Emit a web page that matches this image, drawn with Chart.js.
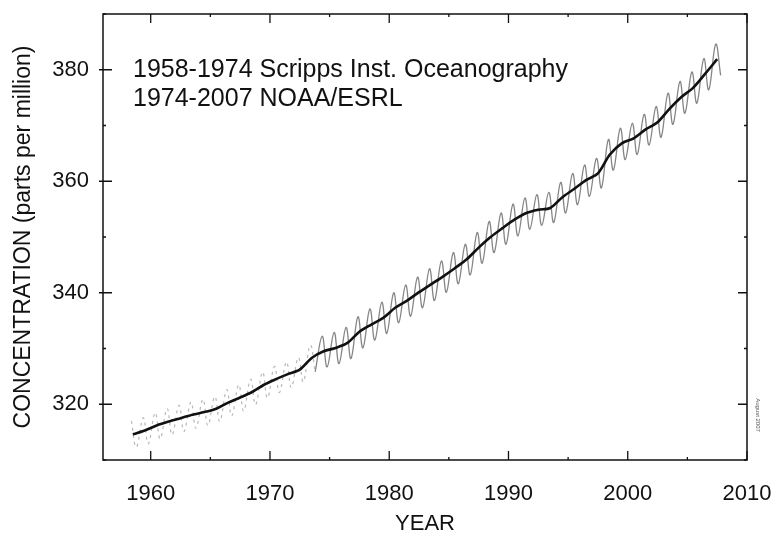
<!DOCTYPE html>
<html>
<head>
<meta charset="utf-8">
<title>Atmospheric CO2 at Mauna Loa</title>
<script src="https://cdn.jsdelivr.net/npm/chart.js@4"></script>
<style>
  body { margin: 0; background: #fff; }
  #wrap { position: relative; width: 775px; height: 544px; }
</style>
</head>
<body>
<div id="wrap"><canvas id="co2" width="775" height="544"></canvas></div>
<script>
// values (ppm)
const years = [1958, 1959, 1960, 1961, 1962, 1963, 1964, 1965, 1966, 1967,
   1968, 1969, 1970, 1971, 1972, 1973, 1974, 1975, 1976, 1977,
   1978, 1979, 1980, 1981, 1982, 1983, 1984, 1985, 1986, 1987,
   1988, 1989, 1990, 1991, 1992, 1993, 1994, 1995, 1996, 1997,
   1998, 1999, 2000, 2001, 2002, 2003, 2004, 2005, 2006, 2007];

// seasonally adjusted line (black)
const trendPpm = [314.6, 315.3, 316.2, 316.9, 317.5, 318.1, 318.6, 319.2, 320.3, 321.2,
   322.2, 323.5, 324.5, 325.4, 326.2, 328.3, 329.5, 330.1, 331.0, 333.0,
   334.3, 335.5, 337.3, 338.6, 340.1, 341.5, 342.9, 344.4, 346.0, 348.1,
   350.0, 351.6, 353.1, 354.3, 354.9, 355.2, 357.1, 358.6, 360.2, 361.4,
   364.8, 366.8, 367.7, 369.3, 370.6, 373.0, 375.1, 376.8, 379.3, 381.9];

// monthly record (grey): spring maximum and autumn minimum of each year
const springHigh = [317.0, 317.6, 318.5, 319.2, 319.8, 320.4, 320.9, 321.4, 322.6, 323.5,
   324.5, 325.8, 326.8, 327.6, 328.4, 330.6, 332.2, 332.9, 333.8, 335.7,
   337.1, 338.3, 340.0, 341.4, 342.8, 344.3, 345.7, 347.2, 348.7, 350.8,
   352.8, 354.3, 355.9, 357.0, 357.6, 358.0, 359.8, 361.4, 362.9, 364.1,
   367.5, 369.5, 370.4, 372.0, 373.4, 375.8, 377.9, 379.6, 382.0, 384.6];
const autumnLow = [312.3, 312.9, 313.8, 314.5, 315.1, 315.7, 316.2, 316.9, 317.9, 318.8,
   319.9, 321.1, 322.1, 323.0, 324.0, 325.8, 326.7, 327.3, 328.2, 330.1,
   331.5, 332.7, 334.6, 335.8, 337.3, 338.6, 340.1, 341.6, 343.2, 345.3,
   347.2, 348.7, 350.2, 351.4, 352.1, 352.6, 354.3, 355.8, 357.3, 358.8,
   362.0, 363.9, 364.8, 366.5, 367.9, 370.2, 372.2, 374.0, 376.4, 379.0];

const noaaStart = 1974;
const yearLabels = [1960, 1970, 1980, 1990, 2000, 2010];
const ppmLabels = [320, 340, 360, 380];
const sourceNotes = ['1958-1974 Scripps Inst. Oceanography', '1974-2007 NOAA/ESRL'];

const FONT = "'Liberation Sans', Arial, Helvetica, sans-serif";

const trendPoints = years.map((yr, i) => ({ x: yr + 0.5, y: trendPpm[i] }));
const scrippsPoints = [];
const noaaPoints = [];
years.forEach((yr, i) => {
   const target = yr < noaaStart ? scrippsPoints : noaaPoints;
   target.push({ x: yr + 0.38, y: springHigh[i] });
   target.push({ x: yr + 0.79, y: autumnLow[i] });
});
// join the two records
noaaPoints.unshift(scrippsPoints[scrippsPoints.length - 1]);

const frameAndNotes = {
   id: 'frameAndNotes',
   afterDraw(chart) {
      const { ctx, chartArea: a, scales: { x, y } } = chart;
      ctx.save();
      ctx.strokeStyle = '#111';
      ctx.lineWidth = 1.5;
      ctx.strokeRect(a.left, a.top, a.right - a.left, a.bottom - a.top);

      ctx.lineWidth = 1.3;
      ctx.beginPath();
      y.ticks.forEach(t => {
         if (t.value % 10 !== 0) return;
         const py = y.getPixelForValue(t.value);
         const len = t.value % 20 === 0 ? 9 : 3;
         ctx.moveTo(a.left - (len > 3 ? 4 : 0), py);
         ctx.lineTo(a.left + len, py);
         ctx.moveTo(a.right - len, py);
         ctx.lineTo(a.right, py);
      });
      x.ticks.forEach(t => {
         if (t.value % 5 !== 0) return;
         const px = x.getPixelForValue(t.value);
         const len = t.value % 10 === 0 ? 9 : 3;
         ctx.moveTo(px, a.bottom);
         ctx.lineTo(px, a.bottom - len);
         ctx.moveTo(px, a.top);
         ctx.lineTo(px, a.top + len);
      });
      ctx.stroke();

      ctx.fillStyle = '#111';
      ctx.font = '25px ' + FONT;
      ctx.textBaseline = 'middle';
      ctx.fillText(sourceNotes[0], a.left + 30, a.top + 56);
      ctx.fillText(sourceNotes[1], a.left + 30, a.top + 85);

      // small rotated date stamp beside the frame
      ctx.translate(a.right + 11, a.bottom - 45);
      ctx.rotate(Math.PI / 2);
      ctx.font = '6px ' + FONT;
      ctx.fillStyle = '#555';
      ctx.textAlign = 'center';
      ctx.fillText('August 2007', 0, 0);
      ctx.restore();
   }
};

new Chart(document.getElementById('co2').getContext('2d'), {
   type: 'line',
   data: {
      datasets: [
         {
            label: 'Trend',
            data: trendPoints,
            borderColor: '#111',
            borderWidth: 2.6,
            pointRadius: 0,
            tension: 0.3,
         },
         {
            label: 'NOAA/ESRL',
            data: noaaPoints,
            borderColor: '#858585',
            borderWidth: 1.3,
            pointRadius: 0,
            tension: 0.4,
         },
         {
            label: 'Scripps',
            data: scrippsPoints,
            borderColor: '#b8b8b8',
            borderWidth: 1.2,
            borderDash: [3, 4],
            pointRadius: 0,
            tension: 0.4,
         },
      ],
   },
   options: {
      responsive: false,
      animation: false,
      events: [],
      layout: { padding: { top: 14, right: 28, left: 0, bottom: 0 } },
      plugins: {
         legend: { display: false },
         tooltip: { enabled: false },
      },
      scales: {
         x: {
            type: 'linear',
            min: 1956,
            max: 2010,
            grid: { display: false, drawTicks: false },
            border: { display: false },
            ticks: {
               stepSize: 5,
               includeBounds: false,
               autoSkip: false,
               maxRotation: 0,
               padding: 21,
               color: '#111',
               font: { family: FONT, size: 22 },
               callback: v => yearLabels.includes(v) ? String(v) : '',
            },
            title: {
               display: true,
               text: 'YEAR',
               color: '#111',
               font: { family: FONT, size: 22 },
               padding: { top: 0, bottom: 7 },
            },
            afterFit: scale => {
               scale.height = 84;
               scale.paddingLeft = 0;
               scale.paddingRight = 0;
            },
         },
         y: {
            min: 310,
            max: 390,
            grid: { display: false, drawTicks: false },
            border: { display: false },
            ticks: {
               stepSize: 10,
               includeBounds: false,
               padding: 14,
               color: '#111',
               font: { family: FONT, size: 22 },
               callback: v => ppmLabels.includes(v) ? String(v) : '',
            },
            title: {
               display: true,
               text: 'CONCENTRATION (parts per million)',
               color: '#111',
               font: { family: FONT, size: 23 },
               padding: { top: 10, bottom: 0 },
            },
            afterFit: scale => {
               scale.width = 103;
               scale.paddingTop = 0;
               scale.paddingBottom = 0;
            },
         },
      },
   },
   plugins: [frameAndNotes],
});
</script>
</body>
</html>
